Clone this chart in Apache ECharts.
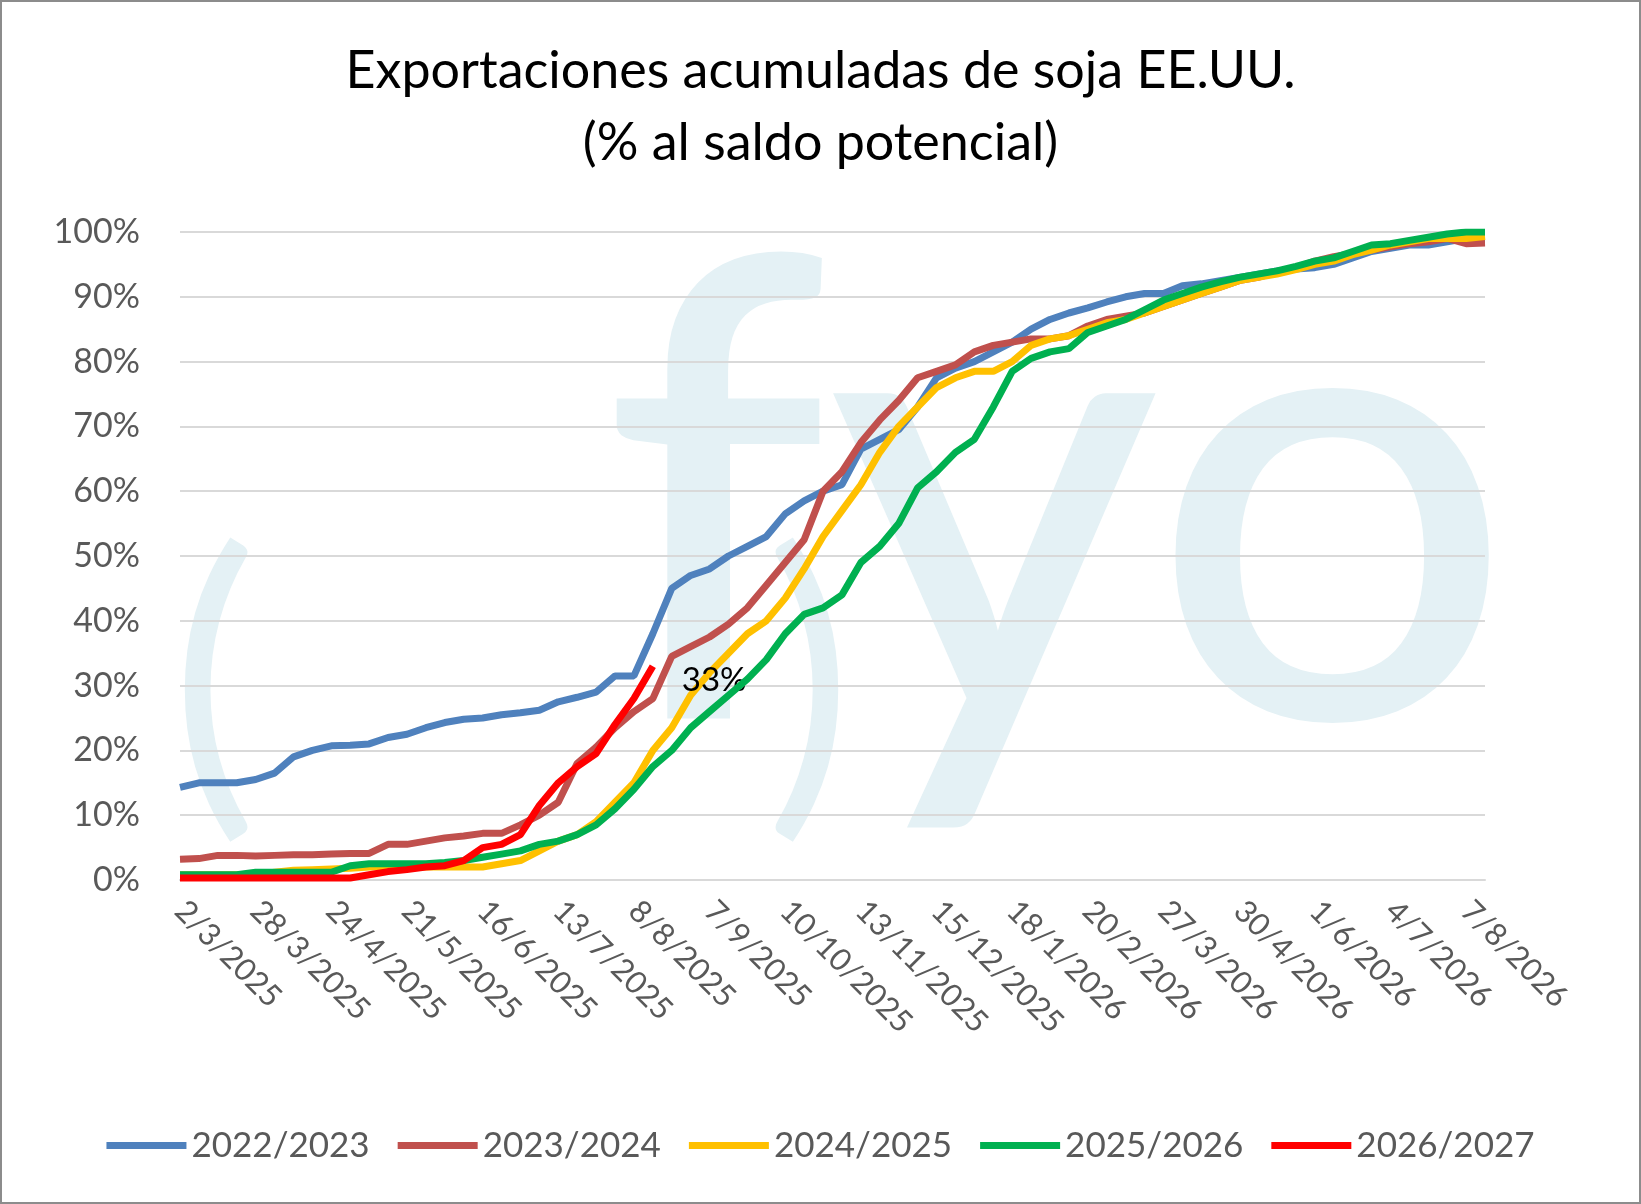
<!DOCTYPE html>
<html><head><meta charset="utf-8">
<script src="https://cdn.jsdelivr.net/npm/echarts@6/dist/echarts.min.js"></script>
<style>html,body{margin:0;padding:0;background:#fff}#c{width:1641px;height:1204px;box-sizing:border-box;border:2px solid #8c8c8c}</style>
</head><body><div id="c"></div>
<script>
// etiquetas visibles del eje x (cada 4 semanas)
const tickLabels = ['2/3/2025','28/3/2025','24/4/2025','21/5/2025','16/6/2025','13/7/2025','8/8/2025','7/9/2025','10/10/2025','13/11/2025','15/12/2025','18/1/2026','20/2/2026','27/3/2026','30/4/2026','1/6/2026','4/7/2026','7/8/2026'];
const seriesNames = ['2022/2023','2023/2024','2024/2025','2025/2026','2026/2027'];
const colors = ['#4f81bd','#c0504d','#ffc000','#00b050','#ff0000'];

const s2022 = [14.3,15,15,15,15.5,16.5,19,20,20.7,20.8,21,22,22.5,23.5,24.3,24.8,25,25.5,25.8,26.2,27.5,28.2,29,31.5,31.5,
  38,45,47,48,50,51.5,53,56.5,58.5,60,61,66.5,68,69.5,73,77.5,79,80,81.5,83,85,86.5,87.5,88.3,89.2,90,90.5,90.5,91.7,92,92.5,93,
  93.5,94,94.3,94.5,95,96,97,97.5,98,98,98.5,99,99];
const s2023 = [3.2,3.3,3.8,3.8,3.7,3.8,3.9,3.9,4.0,4.1,4.1,5.5,5.5,6.0,6.5,6.8,7.2,7.2,8.5,10,12,18,20.5,23.5,26,28,
  34.5,36,37.5,39.5,42,45.5,49,52.5,60,63,67.5,71,74,77.5,78.5,79.5,81.5,82.5,83,83.5,83.5,84,85.5,86.5,87,87.5,88.5,89.5,
  90.5,91.5,92.5,93,93.8,94.5,95.5,96.2,96.7,97.2,97.7,98.2,98.5,99,98.2,98.3];
const s2024 = [0.8,0.8,0.8,0.8,0.8,1.2,1.5,1.6,1.7,1.8,2,2,2,2,2,2,2,2.5,3,4.5,6,7,9,12,15,20,23.5,28.5,32,35,38,40,43.5,48,
  53,57,61,66,70,73,76,77.5,78.5,78.5,80,82.5,83.5,84,85,86,86.5,87.5,88.5,89.5,90.5,91.5,92.5,93,93.5,94.2,95,95.5,96.5,
  97.2,98,98.5,99,99,99,99.3];
const s2025 = [0.8,0.8,0.8,0.8,1.2,1.2,1.2,1.2,1.2,2.2,2.5,2.5,2.5,2.5,2.7,3,3.5,4,4.5,5.5,6,7,8.5,11,14,17.5,20,23.5,26,
  28.5,31,34,38,41,42,44,49,51.5,55,60.5,63,66,68,73,78.5,80.5,81.5,82,84.5,85.5,86.5,88,89.5,90.5,91.5,92.3,93,93.5,94,
  94.7,95.5,96,97,98,98.2,98.7,99.2,99.7,100,100];
const s2026 = [0.3,0.3,0.3,0.3,0.3,0.3,0.3,0.3,0.3,0.3,0.8,1.3,1.6,2,2.2,3,5,5.5,7,11.5,15,17.5,19.5,24,28,33];

const cats = s2022.map((v, i) => String(i));
const font = 'Lato, "Open Sans", sans-serif';

const all = [s2022, s2023, s2024, s2025, s2026];
const series = all.map((d, k) => ({
  name: seriesNames[k], type: 'line', data: d, symbol: 'none',
  lineStyle: {width: 7, color: colors[k]}, itemStyle: {color: colors[k]},
  z: k === 4 ? 10 : 2 + k
}));
// etiqueta del último dato 2026/2027
const last = s2026.length - 1;
series[4].markPoint = {symbol: 'circle', symbolSize: 0, silent: true,
  data: [{coord: [String(last), s2026[last]], value: s2026[last]}],
  label: {show: true, position: 'right', offset: [24, 14], formatter: p => Math.round(p.value) + '%',
    color: '#000', fontSize: 33, fontFamily: font}};

const chart = echarts.init(document.getElementById('c'));
chart.setOption({
  backgroundColor: '#fff',
  animation: false,
  color: colors,
  graphic: [
    {type: 'text', left: 168, top: 520, z: -10, silent: true,
      style: {text: '(      )', fontSize: 330, fontFamily: font, fill: '#e4f1f5'}},
    {type: 'text', left: 600, top: 190, z: -10, silent: true,
      style: {text: 'fyo', fontSize: 640, fontFamily: font, fill: '#e4f1f5', fontWeight: 500}}],
  title: {text: 'Exportaciones acumuladas de soja EE.UU.\n(% al saldo potencial)', left: 'center', top: 28,
    textStyle: {fontSize: 52, fontWeight: 'normal', color: '#000', fontFamily: font, lineHeight: 72}},
  legend: {bottom: 34, itemWidth: 80, itemHeight: 7, itemGap: 28, icon: 'rect',
    textStyle: {fontSize: 35, color: '#595959', fontFamily: font}},
  grid: {left: 178, right: 154, top: 230, bottom: 322},
  xAxis: {type: 'category', data: cats, boundaryGap: false,
    axisLine: {lineStyle: {color: '#d9d9d9', width: 2}}, axisTick: {show: false},
    axisLabel: {interval: 0, rotate: -45, fontSize: 31, color: '#595959', fontFamily: font, margin: 26,
      formatter: (v) => { const i = +v; return i % 4 === 0 ? (tickLabels[i / 4] || '') : ''; }}},
  yAxis: {type: 'value', min: 0, max: 100, interval: 10,
    axisLabel: {formatter: '{value}%', fontSize: 34, color: '#595959', fontFamily: font, margin: 40},
    axisLine: {show: false}, axisTick: {show: false},
    splitLine: {lineStyle: {color: '#d9d9d9', width: 2}}},
  series
});
</script></body></html>
